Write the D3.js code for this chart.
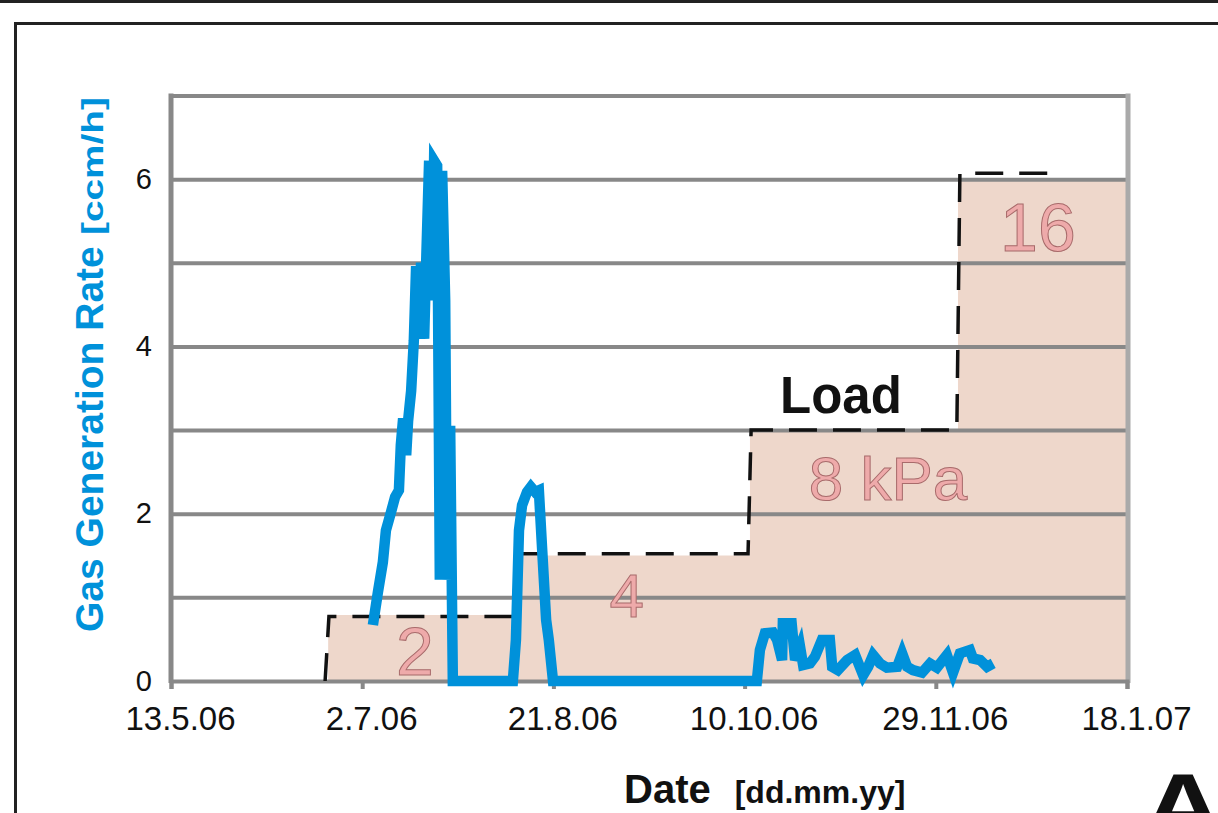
<!DOCTYPE html>
<html>
<head>
<meta charset="utf-8">
<script src="https://cdn.jsdelivr.net/npm/d3@7"></script>
<style>
  html, body { margin: 0; padding: 0; background: #fff; }
  svg { display: block; font-family: Arial, 'Liberation Sans', sans-serif; }
</style>
</head>
<body>
<svg width="1218" height="813"></svg>
<script>
// days are counted from 13.5.06
const startDate = '2006-05-13'
const endDay = 250

const xTickDates = ['2006-05-13', '2006-07-02', '2006-08-21', '2006-10-10', '2006-11-29', '2007-01-18']
const yTickValues = [0, 2, 4, 6]
const yGridValues = [1, 2, 3, 4, 5, 6, 7]

// gas generation rate [ccm/h]
const gasDay = [52.8, 54.1, 55.4, 56.2, 57.3, 58.6, 59.6, 60.1, 60.7, 61.5, 62.0, 62.8, 63.5, 64.1, 64.9, 65.4, 66.2, 66.7, 67.5, 68.3, 68.8, 69.6, 70.3, 70.9, 71.7, 72.2, 73.0, 73.7,
  89.4, 90.2, 91.0, 91.8, 93.1, 94.1, 95.2, 96.2, 97.0, 98.1, 98.8, 99.9,
  153.2, 154.0, 155.3, 157.4, 158.5, 159.8, 160.0, 162.3, 163.2, 164.5, 165.3, 167.1, 168.4, 170.2, 172.3, 172.9, 174.4, 176.8, 178.9, 181.0, 182.3, 183.6, 185.4, 187.2, 189.9, 191.2, 192.5, 194.0, 196.4, 198.5, 200.3, 202.9, 204.5, 206.3, 208.9, 209.7, 211.6, 213.4, 215.0]
const gasRate = [0.67, 1.06, 1.42, 1.80, 1.98, 2.20, 2.28, 2.82, 3.14, 2.70, 3.11, 3.47, 4.07, 4.96, 4.55, 5.00, 4.09, 4.96, 6.22, 4.55, 6.22, 6.16, 1.21, 6.10, 4.55, 1.21, 3.05, 0,
  0, 0.49, 1.80, 2.10, 2.26, 2.32, 2.26, 2.28, 1.62, 0.73, 0.49, 0,
  0, 0.37, 0.57, 0.58, 0.49, 0.25, 0.69, 0.69, 0.25, 0.41, 0.19, 0.21, 0.29, 0.49, 0.49, 0.17, 0.13, 0.25, 0.31, 0.07, 0.17, 0.31, 0.21, 0.16, 0.17, 0.33, 0.17, 0.13, 0.10, 0.21, 0.16, 0.31, 0.10, 0.33, 0.37, 0.27, 0.25, 0.17, 0.21]

// load steps (shaded area)
const loadDay = [41.1, 90.0, 151.4, 205.8, 250]
const loadLevel = [0.79, 1.50, 3.0, 6.0, 6.0]

// load line (dashed)
const dashDay = [40.3, 41.3, 89.4, 90.5, 150.9, 151.7, 205.5, 206.3, 231.2]
const dashLevel = [0, 0.77, 0.77, 1.52, 1.52, 3.0, 3.0, 6.07, 6.07]

// load labels
const loadLabel = ['2', '4', '8 kPa', '16']
const loadLabelDay = [63.8, 119.2, 187.5, 226.7]
const loadLabelLevel = [0.07, 0.76, 2.16, 5.14]
const loadLabelSize = [68, 62, 62, 68]

const blue = '#0091da'
const svg = d3.select('svg')
const parse = d3.utcParse('%Y-%m-%d')
const t0 = parse(startDate)
const toDate = d => new Date(t0.getTime() + d * 864e5)

const x = d3.scaleUtc()
  .domain([t0, toDate(endDay)])
  .range([171, 1127])
const y = d3.scaleLinear()
  .domain([0, 7])
  .range([681, 95.5])

// outer frame
svg.append('rect').attr('x', 0).attr('y', 0).attr('width', 1218).attr('height', 3).attr('fill', '#222')
svg.append('rect')
  .attr('x', 15.5).attr('y', 23.5).attr('width', 1300).attr('height', 900)
  .attr('fill', 'none').attr('stroke', '#222').attr('stroke-width', 3)

// shaded load area
const loadPts = loadDay.map((d, i) => ({ d: d, v: loadLevel[i] }))
svg.append('path')
  .datum(loadPts)
  .attr('fill', '#eed7cb')
  .attr('d', d3.area()
    .curve(d3.curveStepAfter)
    .x(p => x(toDate(p.d)))
    .y0(y(0))
    .y1(p => y(p.v)))

// gridlines
const grid = svg.append('g')
  .attr('transform', 'translate(' + x.range()[0] + ',0)')
  .call(d3.axisLeft(y).tickValues(yGridValues).tickSize(-(x.range()[1] - x.range()[0])).tickFormat(''))
grid.select('.domain').remove()
grid.selectAll('line').attr('stroke', '#888').attr('stroke-width', 4)

// left / right frame of plot
svg.append('line')
  .attr('x1', x.range()[0]).attr('x2', x.range()[0])
  .attr('y1', y(7) - 2).attr('y2', y(0) + 2)
  .attr('stroke', '#888').attr('stroke-width', 5)
svg.append('line')
  .attr('x1', x.range()[1] + 1).attr('x2', x.range()[1] + 1)
  .attr('y1', y(7) - 2).attr('y2', y(0) + 2)
  .attr('stroke', '#aaa').attr('stroke-width', 5)

// x axis
const fmt = d3.utcFormat('%-d.%-m.%y')
const xAxis = svg.append('g')
  .attr('transform', 'translate(0,' + y(0) + ')')
  .call(d3.axisBottom(x).tickValues(xTickDates.map(parse)).tickFormat(fmt).tickSize(8).tickPadding(18))
xAxis.select('.domain').attr('stroke', '#888').attr('stroke-width', 4)
xAxis.selectAll('line').attr('stroke', '#888').attr('stroke-width', 4)
xAxis.selectAll('text')
  .attr('dx', 9)
  .attr('font-size', 33)
  .attr('font-family', 'Arial, Liberation Sans, sans-serif')
  .attr('fill', '#111')

// y axis labels
const yAxis = svg.append('g')
  .attr('transform', 'translate(' + x.range()[0] + ',0)')
  .call(d3.axisLeft(y).tickValues(yTickValues).tickFormat(d3.format('d')).tickSize(0).tickPadding(19))
yAxis.select('.domain').remove()
yAxis.selectAll('text')
  .attr('font-size', 29)
  .attr('font-family', 'Arial, Liberation Sans, sans-serif')
  .attr('fill', '#111')

// dashed load line
const dashPts = dashDay.map((d, i) => ({ d: d, v: dashLevel[i] }))
svg.append('path')
  .datum(dashPts)
  .attr('fill', 'none')
  .attr('stroke', '#111')
  .attr('stroke-width', 3.5)
  .attr('stroke-dasharray', '28,16')
  .attr('d', d3.line().x(p => x(toDate(p.d))).y(p => y(p.v)))

// load labels
svg.append('g').selectAll('text')
  .data(loadLabel)
  .enter().append('text')
  .attr('x', (s, i) => x(toDate(loadLabelDay[i])))
  .attr('y', (s, i) => y(loadLabelLevel[i]))
  .attr('text-anchor', 'middle')
  .attr('font-size', (s, i) => loadLabelSize[i])
  .attr('fill', '#eeaaaa')
  .attr('stroke', '#a86b6b')
  .attr('stroke-width', 1)
  .text(s => s)

svg.append('text')
  .attr('x', x(toDate(175.2)))
  .attr('y', y(3.21))
  .attr('text-anchor', 'middle')
  .attr('font-size', 51)
  .attr('font-weight', 'bold')
  .attr('fill', '#111')
  .text('Load')

// gas rate line
const gasPts = gasDay.map((d, i) => ({ d: d, v: gasRate[i] }))
svg.append('path')
  .datum(gasPts)
  .attr('fill', 'none')
  .attr('stroke', blue)
  .attr('stroke-width', 10.5)
  .attr('d', d3.line().x(p => x(toDate(p.d))).y(p => y(p.v)))

// axis titles
svg.append('text')
  .attr('transform', 'translate(103,632) rotate(-90)')
  .attr('fill', blue)
  .attr('font-weight', 'bold')
  .attr('font-size', 39)
  .text('Gas Generation Rate')
svg.append('text')
  .attr('transform', 'translate(103,235) rotate(-90)')
  .attr('fill', blue)
  .attr('font-weight', 'bold')
  .attr('font-size', 30)
  .attr('textLength', 138)
  .attr('lengthAdjust', 'spacingAndGlyphs')
  .text('[ccm/h]')

const xTitle = svg.append('text')
  .attr('x', 624)
  .attr('y', 803)
  .attr('fill', '#111')
  .attr('font-weight', 'bold')
xTitle.append('tspan').attr('font-size', 40).text('Date')
xTitle.append('tspan').attr('font-size', 32).attr('dx', 24).text('[dd.mm.yy]')

svg.append('text')
  .attr('transform', 'translate(1183,837) scale(1.25,1)')
  .attr('text-anchor', 'middle')
  .attr('font-size', 90)
  .attr('font-weight', 'bold')
  .attr('fill', '#111')
  .text('A')
</script>
</body>
</html>
